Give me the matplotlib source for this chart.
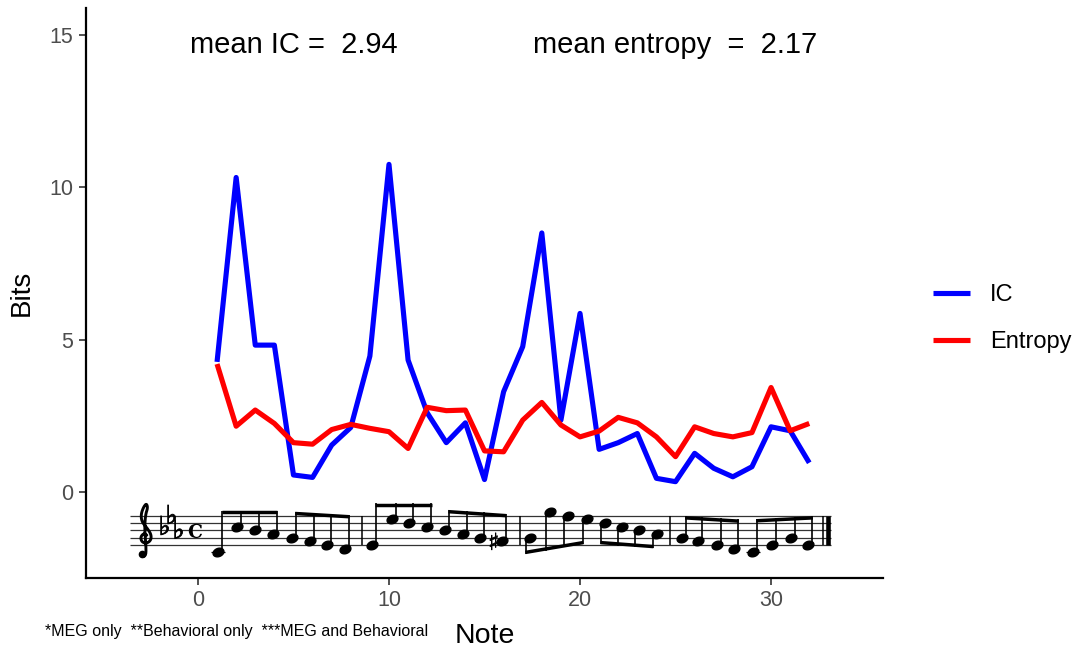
import numpy as np
import matplotlib
matplotlib.use("Agg")
import matplotlib.pyplot as plt
from matplotlib.path import Path
from matplotlib.patches import PathPatch
from matplotlib.textpath import TextPath
from matplotlib.collections import LineCollection
from matplotlib.font_manager import FontProperties

plt.rcParams['font.family'] = ['Liberation Sans', 'DejaVu Sans']

# ---------------- data ----------------
note_index = list(range(1, 33))
ic_bits = [4.27, 10.32, 4.82, 4.82, 0.56, 0.48, 1.54, 2.12, 4.46, 10.75, 4.33, 2.60,
           1.62, 2.27, 0.41, 3.29, 4.77, 8.50, 2.36, 5.86, 1.40, 1.62, 1.92, 0.45,
           0.34, 1.27, 0.78, 0.50, 0.83, 2.14, 2.01, 0.96]
entropy_bits = [4.20, 2.16, 2.69, 2.25, 1.62, 1.57, 2.05, 2.22, 2.09, 1.98, 1.43, 2.78,
                2.67, 2.69, 1.35, 1.32, 2.36, 2.94, 2.20, 1.81, 2.00, 2.45, 2.27, 1.81,
                1.16, 2.14, 1.92, 1.81, 1.95, 3.43, 2.01, 2.25]
series_names = ["IC", "Entropy"]
series_colors = ["#0000FF", "#FF0000"]
mean_ic = 2.94
mean_entropy = 2.17
x_tick_values = [0, 10, 20, 30]
y_tick_values = [0, 5, 10, 15]
x_label = "Note"
y_label = "Bits"
caption = "*MEG only  **Behavioral only  ***MEG and Behavioral"

# melody engraved under the curves: staff steps above the bottom (E4) line
melody_steps = [-2, 5, 4, 3, 2, 1, 0, -1,
                0, 7, 6, 5, 4, 3, 2, 1,
                2, 9, 8, 7, 6, 5, 4, 3,
                2, 1, 0, -1, -2, 0, 2, 0]
sharp_notes = [15]

# ---------------- notation layout ----------------
note_x = [1.06, 2.06, 2.98, 3.91, 4.91, 5.86, 6.77, 7.70,
          9.09, 10.14, 11.06, 12.00, 12.93, 13.86, 14.76, 15.90,
          17.38, 18.43, 19.39, 20.35, 21.31, 22.18, 23.10, 24.02,
          25.32, 26.19, 27.16, 28.08, 29.04, 30.04, 31.05, 31.95]
bar_x = [8.57, 16.86, 24.71]
stem_dirs = [1, 1, 1, 1, -1, -1, 1, 1]
beam_steps = [(9.4, 9.4), (9.1, 8.2), (11.4, 11.4), (9.6, 8.5),
              (-2.5, 0.2), (0.2, -0.9), (7.9, 7.0), (7.1, 7.9)]

W, H = 1074, 648
fig = plt.figure(figsize=(W / 100, H / 100), dpi=100)
ax = fig.add_axes([86 / W, 1 - 578 / H, (883 - 86) / W, (578 - 8.3) / H])
ax.set_xlim(-5.86, 35.86)
ax.set_ylim(-2.82, 15.87)
ax.set_autoscale_on(False)

# ---------------- series ----------------
for vals, name, col in zip([ic_bits, entropy_bits], series_names, series_colors):
    ax.plot(note_index, vals, color=col, lw=3.7, label=name,
            solid_joinstyle='round', solid_capstyle='butt', zorder=3)

# ---------------- axes styling ----------------
for s in ['top', 'right']:
    ax.spines[s].set_visible(False)
for s in ['left', 'bottom']:
    ax.spines[s].set_linewidth(1.6)
    ax.spines[s].set_color('black')
    ax.spines[s].set_capstyle('projecting')
ax.set_xticks(x_tick_values)
ax.set_yticks(y_tick_values)
ax.tick_params(length=5, width=1.2, color='#333333', labelsize=15.5,
               labelcolor='#4D4D4D', pad=4)

ax.text(5, 14.41, f"mean IC =  {mean_ic:.2f}", ha='center', va='baseline', fontsize=21)
ax.text(25, 14.41, f"mean entropy  =  {mean_entropy:.2f}", ha='center', va='baseline', fontsize=21)

fig.text(22 / W, 1 - 293 / H, y_label, rotation=90, ha='center', va='center', fontsize=20)
fig.text(485 / W, 1 - 643 / H, x_label, ha='center', va='baseline', fontsize=20.5)
fig.text(45 / W, 1 - 636 / H, caption, ha='left', va='baseline', fontsize=11.5)

h, l = ax.get_legend_handles_labels()
fig.legend(h, l, loc='center left', bbox_to_anchor=(933 / W, 1 - 318.5 / H),
           frameon=False, fontsize=17, handlelength=37 / 23.6, handletextpad=20 / 23.6,
           labelspacing=1.05, borderpad=0, borderaxespad=0)

# ---------------- music staff ----------------
inv = ax.transData.inverted()


def to_data(px, py):
    pts = np.column_stack([np.atleast_1d(px).astype(float), H - np.atleast_1d(py).astype(float)])
    return inv.transform(pts)


def ydat(py):
    return float(to_data(0, py)[0, 1])


SX = float(ax.transData.transform((1, 0))[0] - ax.transData.transform((0, 0))[0])
E4_PX = 545.0
HALF = 3.65


def step_px(s):
    return E4_PX - s * HALF


def step_y(s):
    return ydat(step_px(s))


staff_x0, staff_x1 = -3.56, 33.14
staff_segs = [[(staff_x0, step_y(2 * k)), (staff_x1, step_y(2 * k))] for k in range(5)]
ax.add_collection(LineCollection(staff_segs, colors='#333333', linewidths=0.9, zorder=1))
bar_segs = [[(bx, step_y(0)), (bx, step_y(8))] for bx in bar_x + [32.72]]
ax.add_collection(LineCollection(bar_segs, colors='black', linewidths=1.1, zorder=1))
ax.add_collection(LineCollection([[(33.0, step_y(0)), (33.0, step_y(8))]], colors='black',
                                 linewidths=3.3, capstyle='butt', zorder=1))

# note heads
t = np.linspace(0, 2 * np.pi, 41)
ex, ey = 1.3 * np.cos(t), 0.95 * np.sin(t)
ang = np.deg2rad(22)
hv = np.column_stack([ex * np.cos(ang) - ey * np.sin(ang), ex * np.sin(ang) + ey * np.cos(ang)])
head = Path(hv, closed=True)
ax.plot(note_x, [step_y(s) for s in melody_steps], ls='none', marker=head, ms=7.8,
        color='black', zorder=4)

# ledger lines
ledger = [[(x - 0.36, step_y(-2)), (x + 0.36, step_y(-2))]
          for x, s in zip(note_x, melody_steps) if s <= -2]
ax.add_collection(LineCollection(ledger, colors='black', linewidths=0.9, zorder=1))

# stems and beams
off = 4.0 / SX
beam_half = ydat(0) - ydat(1.7)
stem_segs = []
beam_segs = []
for g in range(8):
    idx = list(range(4 * g, 4 * g + 4))
    d = stem_dirs[g]
    xs = [float(note_x[i] + d * off) for i in idx]
    b0, b1 = step_y(beam_steps[g][0]), step_y(beam_steps[g][1])
    for i, xx in zip(idx, xs):
        yb = b0 + (b1 - b0) * (xx - xs[0]) / (xs[-1] - xs[0])
        y_head = step_y(melody_steps[i] + d * 0.3)
        stem_segs.append([(xx, y_head), (xx, yb)])
    beam_segs.append([(xs[0] - 0.03, b0 - d * beam_half), (xs[-1] + 0.03, b1 - d * beam_half)])
ax.add_collection(LineCollection(stem_segs, colors='black', linewidths=1.2, zorder=4))
ax.add_collection(LineCollection(beam_segs, colors='black', linewidths=2.5,
                                 capstyle='butt', zorder=4))


def glyph(ch, prop, cx_px, bottom_px, height_px, lw=0.0):
    tp = TextPath((0, 0), ch, size=100, prop=prop)
    v = tp.vertices
    (x0, y0), (x1, y1) = v.min(0), v.max(0)
    s = height_px / (y1 - y0)
    px = cx_px + (v[:, 0] - (x0 + x1) / 2) * s
    py = bottom_px - (v[:, 1] - y0) * s
    dv = to_data(px, py)
    ax.add_patch(PathPatch(Path(dv, tp.codes), fc='black', ec='black', lw=lw, zorder=4))


# treble clef drawn as a smoothed stroke
G_PX = step_px(2)
sp = 2 * HALF
ctrl = np.array([(0.25, 0.35), (-0.15, 0.62), (-0.62, 0.1), (-0.45, -0.58), (0.2, -0.8),
                 (0.82, -0.35), (0.85, 0.45), (0.3, 1.3), (-0.45, 2.2), (-0.55, 3.2),
                 (-0.2, 4.2), (0.2, 4.7), (0.38, 4.1), (0.08, 3.2), (-0.05, 1.5),
                 (0.05, 0.0), (0.15, -1.6), (0.1, -2.4), (-0.3, -2.65), (-0.55, -2.3)])
pts = ctrl
for _ in range(3):
    q = 0.75 * pts[:-1] + 0.25 * pts[1:]
    r = 0.25 * pts[:-1] + 0.75 * pts[1:]
    pts = np.vstack([pts[:1], np.column_stack([q, r]).reshape(-1, 2), pts[-1:]])
dv = to_data(145 + pts[:, 0] * sp, G_PX - pts[:, 1] * sp)
ax.plot(dv[:, 0], dv[:, 1], color='black', lw=2.1, solid_capstyle='round',
        solid_joinstyle='round', zorder=4)
ball = to_data(145 - 0.42 * sp, G_PX + 2.3 * sp)
ax.plot(ball[:, 0], ball[:, 1], 'o', color='black', ms=4.5, zorder=4)

sym = FontProperties(family='DejaVu Sans')
for cx, s in zip([163.5, 170.5, 177.5], [4, 7, 3]):
    glyph('\u266D', sym, cx, step_px(s) + 4.5, 19, lw=0.6)
glyph('C', FontProperties(family='DejaVu Serif', weight='bold'), 195, step_px(2) + 0.3, 14.2)
for i in sharp_notes:
    sx_px = float(ax.transData.transform((note_x[i], 0))[0]) - 9
    glyph('\u266F', sym, sx_px, step_px(melody_steps[i]) + 8.5, 17, lw=0.5)

fig.savefig('out.png', dpi=100)
